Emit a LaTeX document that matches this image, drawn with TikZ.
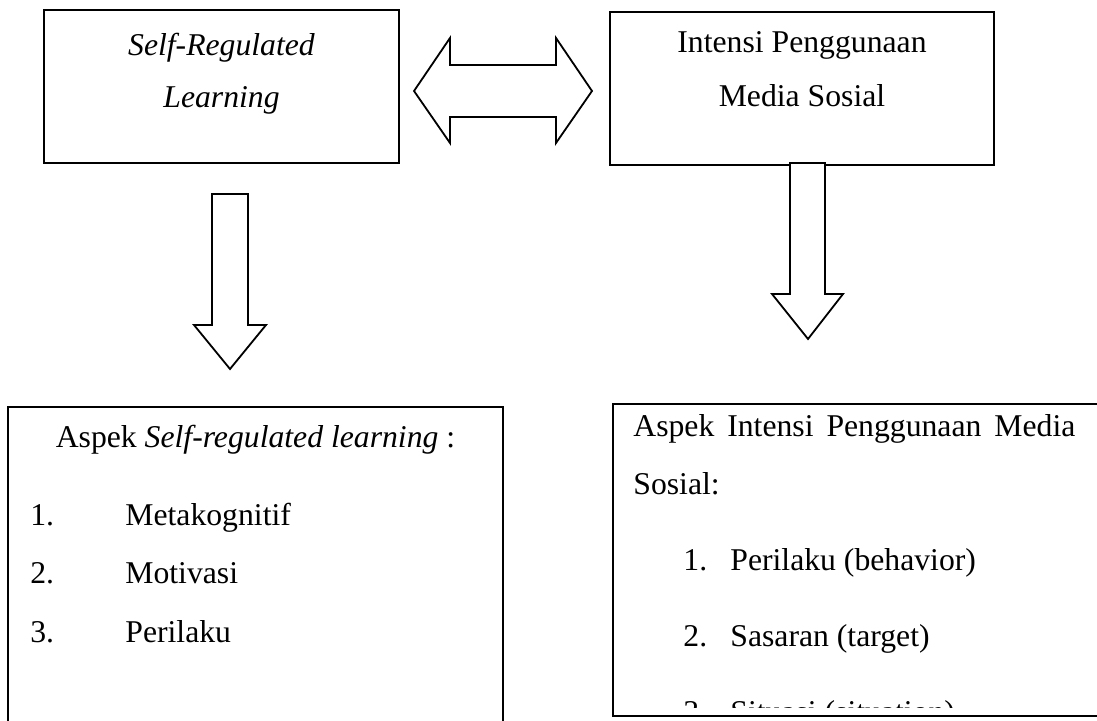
\documentclass[tikz,border=0pt]{standalone}
\usepackage{fontspec}
\setmainfont{Liberation Serif}
\begin{document}
\begin{tikzpicture}[x=0.5pt,y=-0.5pt,
  box/.style={draw, line width=1.1pt, inner sep=0pt},
  blockarrow/.style={draw, line width=0.9pt, line join=miter, fill=white},
  txt/.style={anchor=base west, inner sep=0pt, font=\fontsize{15.85}{19}\selectfont},
  ctxt/.style={anchor=base, inner sep=0pt, font=\fontsize{15.85}{19}\selectfont}]
\useasboundingbox (0,0) rectangle (1097,721);
\clip (0,0) rectangle (1097,721);
\fill[white] (0,0) rectangle (1097,721);

% boxes
\node[box, minimum width=177.5pt, minimum height=76.5pt] (srl) at (221.5,86.5) {};
\node[box, minimum width=192pt, minimum height=76.5pt] (ipms) at (802,88.5) {};
\node[box, minimum width=247.5pt, minimum height=166.5pt] (asrl) at (255.5,573.5) {};
\node[box, minimum width=253.5pt, minimum height=156pt] (aipms) at (866.5,560) {};

% box texts
\node[ctxt] (t1a) at (221.5,56) {\textit{Self-Regulated}};
\node[ctxt] (t1b) at (221.5,108) {\textit{Learning}};
\node[ctxt] (t2a) at (802,53) {Intensi Penggunaan};
\node[ctxt] (t2b) at (802,107) {Media Sosial};

\node[ctxt] (t3h) at (255.5,447) {Aspek \textit{Self-regulated learning} :};
\node[txt] (n31) at (30,525) {1.};
\node[txt] (i31) at (125,525) {Metakognitif};
\node[txt] (n32) at (30,583) {2.};
\node[txt] (i32) at (125,583) {Motivasi};
\node[txt] (n33) at (30,642) {3.};
\node[txt] (i33) at (125,642) {Perilaku};

\node[txt] (t4h) at (633,437) {\hbox to 221pt{Aspek\hfill Intensi\hfill Penggunaan\hfill Media}};
\node[txt] (t4s) at (633,494) {Sosial:};
\node[txt] (n41) at (683,570) {1.};
\node[txt] (i41) at (730,570) {Perilaku (behavior)};
\node[txt] (n42) at (683,646) {2.};
\node[txt] (i42) at (730,646) {Sasaran (target)};
\begin{scope}
\clip (613,404) rectangle (1097,707);
\node[txt] (n43) at (683,722) {3.};
\node[txt] (i43) at (730,722) {Situasi (situation)};
\end{scope}

% block arrows
\draw[blockarrow] (414,91) -- (450,38) -- (450,65) -- (556,65) -- (556,38) -- (592,91)
  -- (556,143) -- (556,117) -- (450,117) -- (450,143) -- cycle;
\draw[blockarrow] (212,194) -- (248,194) -- (248,325) -- (266,325) -- (230,369)
  -- (194,325) -- (212,325) -- cycle;
\draw[blockarrow] (790,163) -- (825,163) -- (825,294) -- (843,294) -- (808,339)
  -- (772,294) -- (790,294) -- cycle;
\end{tikzpicture}
\end{document}
